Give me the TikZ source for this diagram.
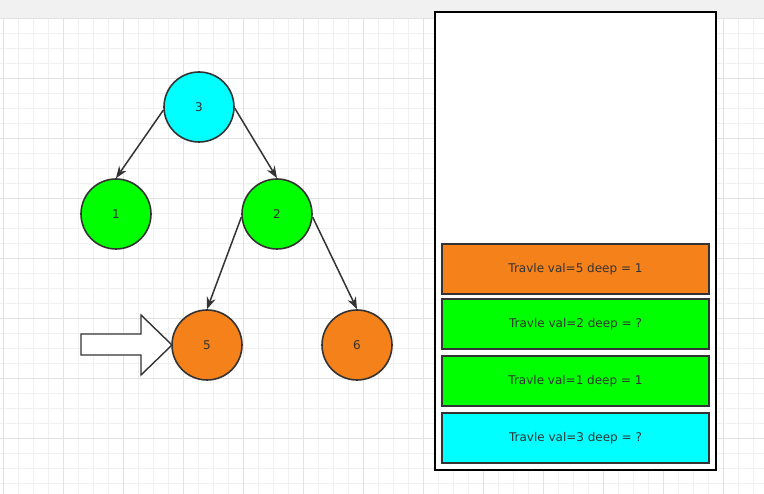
\documentclass[tikz,border=0pt]{standalone}
\usepackage{fontspec}
\setmainfont{DejaVu Sans}
\usetikzlibrary{arrows.meta}
\definecolor{strokec}{HTML}{333333}
\definecolor{orangec}{HTML}{F5811B}
\definecolor{greenc}{HTML}{00FF00}
\definecolor{cyanc}{HTML}{00FFFF}
\definecolor{gridminor}{HTML}{F0F0F0}
\definecolor{gridmajor}{HTML}{E2E2E2}
\definecolor{topband}{HTML}{F1F1F1}
\tikzset{
  treenode/.style={circle, draw=strokec, line width=1.6pt, minimum size=70pt, inner sep=0pt, text=strokec, font=\fontsize{12}{14}\selectfont},
  stackbox/.style={draw=strokec, line width=1.6pt, minimum width=267pt, minimum height=50pt, inner sep=0pt, text=strokec, font=\fontsize{12}{14}\selectfont},
  edge/.style={draw=strokec, line width=1.5pt, -{Stealth[length=12pt,width=9pt]}},
}
\begin{document}
\begin{tikzpicture}[x=1pt,y=-1pt]
\useasboundingbox (0,0) rectangle (764,494);
\fill[white] (0,0) rectangle (764,494);
% grid
\foreach \i in {0,...,51} {
  \draw[gridminor, line width=0.8pt] ({3+15*\i},18) -- ({3+15*\i},494);
}
\foreach \j in {0,...,32} {
  \draw[gridminor, line width=0.8pt] (0,{18+15*\j}) -- (764,{18+15*\j});
}
\foreach \i in {0,...,12} {
  \draw[gridmajor, line width=0.8pt] ({3+60*\i},18) -- ({3+60*\i},494);
}
\foreach \j in {0,...,8} {
  \draw[gridmajor, line width=0.8pt] (0,{18+60*\j}) -- (764,{18+60*\j});
}
\fill[topband] (0,0) rectangle (764,18);
% tree
\node[treenode, fill=cyanc] (n3) at (199,107) {3};
\node[treenode, fill=greenc] (n1) at (116,214) {1};
\node[treenode, fill=greenc] (n2) at (277,214) {2};
\node[treenode, fill=orangec] (n5) at (207,345) {5};
\node[treenode, fill=orangec] (n6) at (357,345) {6};
\draw[edge] (n3.185) -- (n1.north);
\draw[edge] (n3.358) -- (n2.north);
\draw[edge] (n2.185) -- (n5.north);
\draw[edge] (n2.355) -- (n6.north);
% pointer arrow
\draw[strokec, fill=white, line width=1.4pt, line join=miter]
  (81,334) -- (141,334) -- (141,315) -- (172,345) -- (141,375) -- (141,355) -- (81,355) -- cycle;
% stack
\node[draw=black, line width=1.5pt, fill=white, minimum width=281pt, minimum height=458pt, inner sep=0pt] (stack) at (575.5,241) {};
\node[stackbox, fill=orangec] (s1) at (575.5,269) {Travle val=5 deep = 1};
\node[stackbox, fill=greenc] (s2) at (575.5,324) {Travle val=2 deep = ?};
\node[stackbox, fill=greenc] (s3) at (575.5,381) {Travle val=1 deep = 1};
\node[stackbox, fill=cyanc] (s4) at (575.5,438) {Travle val=3 deep = ?};
\end{tikzpicture}
\end{document}
